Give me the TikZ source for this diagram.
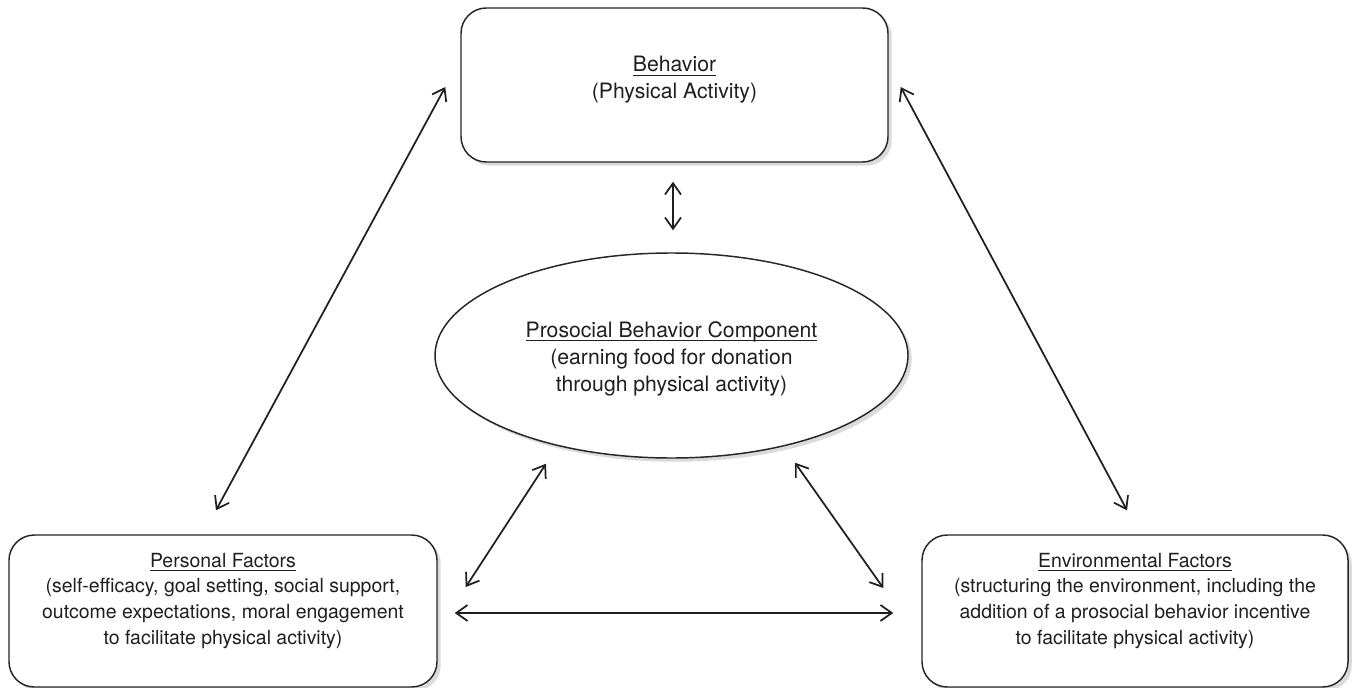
\documentclass[tikz,border=0pt]{standalone}
\usepackage{fontspec}
\setmainfont{TeX Gyre Heros}
\usetikzlibrary{arrows.meta,shapes.geometric,shadows}
\newcommand{\myul}[1]{\setbox0\hbox{#1}\leavevmode\rlap{\rule[-2.8pt]{\wd0}{0.8pt}}\box0}
\begin{document}
\begin{tikzpicture}[x=0.75pt,y=-0.75pt,
  bigfont/.style={font=\fontsize{15.9}{20.25}\selectfont},
  smallfont/.style={font=\fontsize{14.6}{19.3}\selectfont},
  txt/.style={text=black!88},
  shadowed/.style={drop shadow={shadow xshift=2.8pt,shadow yshift=-2.8pt,fill=black!14,opacity=1}},
  box/.style={draw=black!85, line width=1.1pt, rounded corners=19pt, inner sep=0pt, fill=white, shadowed, txt},
  oval/.style={draw=black!85, line width=1.1pt, ellipse, inner sep=0pt, fill=white, shadowed, txt, bigfont,
    minimum width=354.75pt, minimum height=153.75pt},
  dbl/.style={{Straight Barb[length=8.5pt,width=12pt]}-{Straight Barb[length=8.5pt,width=12pt]}, line width=1.3pt, draw=black!88}
]
\fill[white] (0,0) rectangle (1355,688);
\useasboundingbox (0,0) rectangle (1355,688);

\node[box, bigfont] (beh) at (674.5,85)
  {\parbox[c][115.5pt][t]{320.25pt}{\centering\rule{0pt}{48pt}\myul{Behavior}\\(Physical Activity)}};

\node[oval] (pb) at (671.5,355.5)
  {\parbox[c][105pt][t]{240pt}{\centering\rule{0pt}{39pt}\myul{Prosocial Behavior Component}\\(earning food for donation\\through physical activity)}};

\node[box, smallfont] (pers) at (223,611)
  {\parbox[c][114pt][t]{321pt}{\centering\rule{0pt}{24pt}\myul{Personal Factors}\\(self-efficacy, goal setting, social support,\\outcome expectations, moral engagement\\to facilitate physical activity)}};

\node[box, smallfont] (env) at (1135,611)
  {\parbox[c][114pt][t]{319.5pt}{\centering\rule{0pt}{24pt}\myul{Environmental Factors}\\(structuring the environment, including the\\addition of a prosocial behavior incentive\\to facilitate physical activity)}};

\draw[dbl] ([shift={(-15,2)}]beh.west) -- ([shift={(-7,-24)}]pers.north);
\draw[dbl] ([shift={(12,2)}]beh.east) -- ([shift={(-8,-24)}]env.north);
\draw[dbl] ([shift={(-1.5,19)}]beh.south) -- ([shift={(1.5,-22)}]pb.north);
\draw[dbl] ([shift={(-125.5,5)}]pb.south) -- ([shift={(28,-24)}]pers.east);
\draw[dbl] ([shift={(123.5,4)}]pb.south) -- ([shift={(-38,-23)}]env.west);
\draw[dbl] ([shift={(17,2)}]pers.east) -- ([shift={(-28,2)}]env.west);
\end{tikzpicture}
\end{document}
